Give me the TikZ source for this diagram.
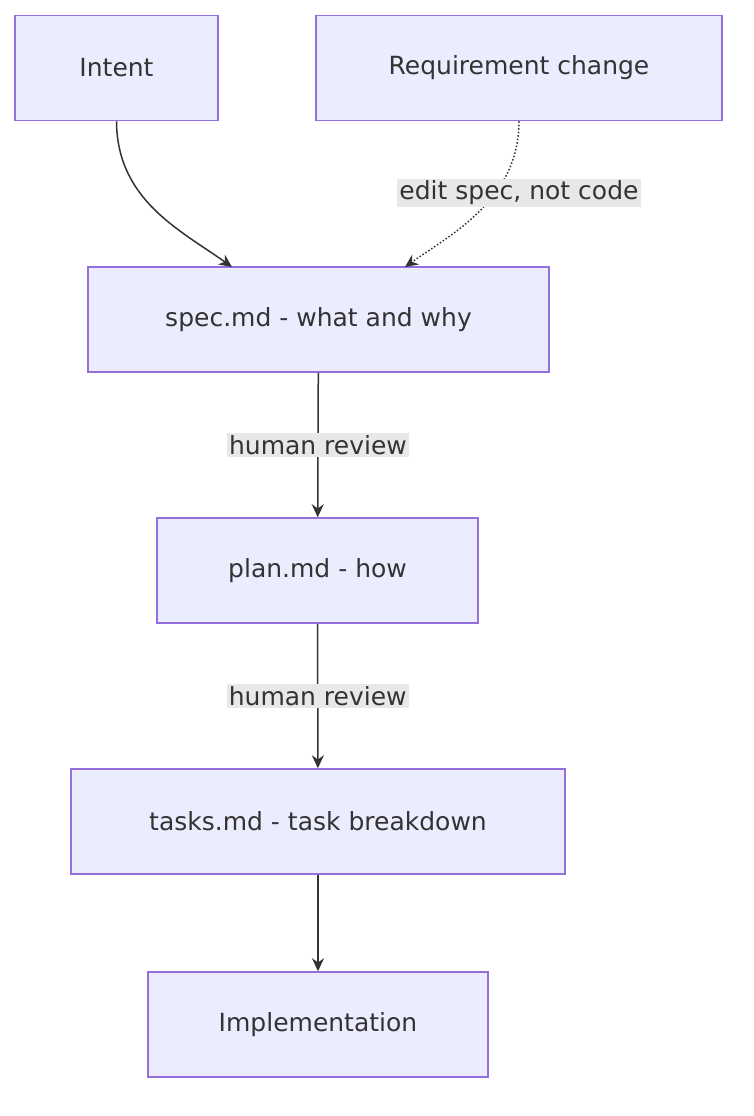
\documentclass[tikz,border=0pt]{standalone}
\usepackage{fontspec}
\setmainfont{DejaVu Sans}
\usepackage{xcolor}
\usetikzlibrary{arrows.meta,positioning}
\definecolor{boxfill}{HTML}{ECECFF}
\definecolor{boxline}{HTML}{9370DB}
\definecolor{ink}{HTML}{333333}
\definecolor{lblfill}{HTML}{E8E8E8}
\begin{document}
\begin{tikzpicture}[x=1pt,y=-1pt,
  flowbox/.style={draw=boxline,fill=boxfill,line width=1.5pt,text=ink,
    minimum height=105pt,inner sep=0pt,font=\fontsize{25}{30}\selectfont},
  edgelbl/.style={fill=lblfill,text=ink,inner sep=2pt,font=\fontsize{25}{30}\selectfont},
  link/.style={draw=ink,line width=1.5pt,-{Stealth[length=13pt,width=12pt]}}]
  \useasboundingbox (0,0) rectangle (754,1116);

  \node[flowbox,minimum width=203pt] (intent) at (116.5,68) {Intent};
  \node[flowbox,minimum width=406pt] (change) at (519,68) {Requirement change};
  \node[flowbox,minimum width=461pt] (spec) at (318.5,319.5) {spec.md - what and why};
  \node[flowbox,minimum width=321pt] (plan) at (317.5,570.5) {plan.md - how};
  \node[flowbox,minimum width=494pt] (tasks) at (318,821.5) {tasks.md - task breakdown};
  \node[flowbox,minimum width=340pt] (impl) at (318,1024.5) {Implementation};

  \coordinate (specA) at (232,267);
  \coordinate (specB) at (405,267);

  \draw[link] (intent.south) .. controls (117,200) and (180,230) .. (specA);
  \draw[link,dotted] (change.south) .. controls (519,200) and (450,235) .. (specB);
  \node[edgelbl] (lblchange) at (519,193) {edit spec, not code};

  \draw[link] (spec) -- node[edgelbl] (lblspec) {human review} (plan);
  \draw[link] (plan) -- node[edgelbl] (lblplan) {human review} (tasks);
  \draw[link] (tasks) -- (impl);
\end{tikzpicture}
\end{document}
